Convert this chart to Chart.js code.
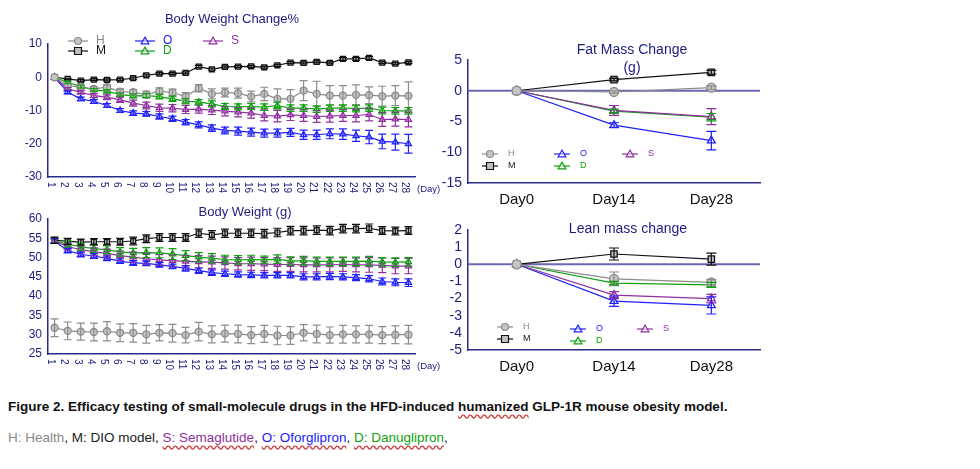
<!DOCTYPE html>
<html>
<head>
<meta charset="utf-8">
<script src="https://cdn.jsdelivr.net/npm/chart.js@4"></script>
<style>
  body { margin: 0; width: 980px; height: 469px; background: #fff; position: relative; font-family: "Liberation Sans", Arial, sans-serif; overflow: hidden; }
  canvas { position: absolute; }
  .cap1 { position: absolute; left: 8px; top: 399px; font-size: 13.5px; font-weight: bold; color: #111; }
  .cap2 { position: absolute; left: 8px; top: 430px; font-size: 13.5px; color: #222; }
  .wavy { text-decoration: underline wavy #d03030; text-underline-offset: 3px; }
</style>
</head>
<body>
<canvas id="c1" style="left:0;top:0"></canvas>
<canvas id="c2" style="left:0;top:200px"></canvas>
<canvas id="c3" style="left:420px;top:30px"></canvas>
<canvas id="c4" style="left:420px;top:215px"></canvas>
<div class="cap1">Figure 2. Efficacy testing of small-molecule drugs in the HFD-induced <span class="wavy">humanized</span> GLP-1R mouse obesity model.</div>
<div class="cap2"><span style="color:#888">H: Health</span>, M: DIO model, <span style="color:#9030a0" class="wavy">S: Semaglutide</span>, <span style="color:#2020ff" class="wavy">O: Oforglipron</span>, <span style="color:#10a010" class="wavy">D: Danuglipron</span>,</div>
<script>
// ---- data ----
const days = Array.from({length: 28}, (_, i) => String(i + 1));
const groups = ['H', 'M', 'O', 'D', 'S'];

const bwcM = [0,-0.5,-1,-0.7,-0.8,-0.7,-0.3,0.6,1.1,1.1,1.3,3.2,2.4,3.1,3.2,3.3,3,3.6,4.4,4.3,4.6,4.3,5.5,5.5,5.8,4.4,4.1,4.5];
const bwcH = [0,-2.5,-3,-3.5,-3,-4.3,-4.5,-5.2,-4.2,-4.6,-5.8,-3.3,-5,-4.6,-4.8,-5.8,-5,-6.5,-6.5,-4,-5,-5.5,-5.5,-5.3,-5.4,-5.7,-5.5,-5.6];
const bwcO = [0,-4.5,-6.5,-7.3,-8.5,-10,-10.8,-11,-11.8,-12.5,-13.5,-14.3,-15.3,-16,-16.2,-16.5,-16.8,-16.8,-16.6,-17.3,-17.3,-17,-17.1,-17.6,-18,-19.3,-19.5,-20];
const bwcD = [0,-1.5,-2.8,-3.8,-4.2,-5.2,-5.6,-5.5,-5.8,-6.5,-7.2,-7.5,-8,-8.8,-8.9,-8.8,-9,-8.5,-9.3,-9.3,-9.6,-9.3,-9.3,-9.4,-9.3,-10,-10.1,-10.1];
const bwcS = [0,-3.5,-4.5,-5.5,-6,-6.8,-7.8,-8.5,-9.2,-9.3,-9.7,-9.6,-9.9,-10.2,-10.5,-10.8,-11.5,-11.7,-11.3,-11.5,-11.8,-11.7,-11.5,-11.5,-11.2,-12.7,-12.6,-12.7];
const bwcErrH = [0,0.5,0.6,0.7,0.7,0.8,0.8,1,1,1,1.2,1.1,1.5,1.3,1.5,1.6,2,3,2.8,3,3.8,3,3,3,2.5,3,3,4.2];
const bwcErrM = [0,0.2,0.3,0.3,0.3,0.3,0.3,0.3,0.3,0.3,0.3,0.4,0.3,0.3,0.3,0.3,0.3,0.3,0.3,0.3,0.3,0.3,0.4,0.4,0.4,0.3,0.3,0.3];
const bwcErrO = [0,0.4,0.5,0.6,0.6,0.6,0.7,0.7,0.8,0.8,0.8,0.9,1,1,1.2,1.2,1.2,1.2,1.2,1.4,1.4,1.5,1.6,1.7,2,2.2,2.4,2.8];
const bwcErrD = [0,0.3,0.4,0.4,0.5,0.5,0.6,0.6,0.7,0.8,0.8,0.8,0.9,0.9,0.9,0.9,1,1,1,1,1,1,1,1,1,1,1,1];
const bwcErrS = [0,0.4,0.5,0.6,0.7,0.8,0.9,1,1.1,1.1,1.2,1.2,1.3,1.4,1.4,1.5,1.6,1.7,1.7,1.8,1.8,1.8,1.8,1.9,1.9,2.1,2.1,2.2];

const bwM = [54.5,54.2,54,54.1,54.1,54.1,54.3,54.9,55.2,55.2,55.2,56.3,55.9,56.3,56.3,56.3,56.2,56.5,57,57,57.1,57,57.5,57.5,57.6,57,56.9,57];
const bwH = [31.8,31,30.8,30.7,30.9,30.5,30.5,30.1,30.5,30.4,29.9,30.8,30.1,30.3,30.2,29.9,30.2,29.8,29.8,30.5,30.2,29.9,30.1,30.1,30.1,29.9,30,30];
const bwO = [54.3,51.8,50.8,50.4,49.8,49.1,48.6,48.5,48.1,47.7,47.2,46.6,46.1,45.8,45.6,45.5,45.4,45.4,45.4,45,45,45.1,45,44.8,44.5,43.8,43.6,43.5];
const bwD = [54.3,53.5,52.8,52.3,52,51.5,51.2,51.3,51.2,50.9,50.5,50.1,49.8,49.5,49.4,49.5,49.4,49.6,49.1,49.2,49,49,49,49,49.1,48.9,48.8,48.9];
const bwS = [54.3,52.8,52.1,51.5,51.1,50.5,50.1,49.7,49.4,49.2,49,48.9,48.8,48.6,48.4,48.4,48.3,48.2,48.2,48.1,48.1,48.1,48.2,48.1,48.1,48,47.8,47.8];
const bwErrH = [2.3,2.3,2.2,2.3,2.5,2.3,2.4,2.3,2.1,2.3,2,2.4,2.2,2.2,2.3,2.2,2.2,2.4,2.3,2.1,2.3,2.1,2.3,2.2,2.3,2.2,2.3,2.4];
const bwErrM = [0.8,0.8,0.8,0.8,0.8,0.9,1,1,1,1,1,1.1,1.1,1.1,1.1,1.1,1.1,1.1,1.1,1.1,1.1,1.1,1.1,1.1,1.1,1,1,1];
const bwErrO = [0.6,0.6,0.6,0.6,0.6,0.6,0.6,0.6,0.6,0.6,0.7,0.7,0.7,0.7,0.7,0.7,0.7,0.7,0.7,0.8,0.8,0.8,0.8,0.8,0.8,0.9,0.9,1];
const bwErrD = [0.6,0.8,0.9,1,1,1.1,1.2,1.3,1.3,1.4,1.3,1.2,1.2,1.1,1.1,1.1,1,1.1,1.1,1.1,1.1,1.1,1.1,1.1,1.2,1.1,1.1,1.1];
const bwErrS = [0.6,0.8,0.9,1,1.1,1.2,1.3,1.4,1.4,1.5,1.5,1.6,1.6,1.6,1.6,1.7,1.7,1.8,1.8,1.8,1.8,1.8,1.8,1.8,1.9,1.9,2,2];

const periods = ['Day0', 'Day14', 'Day28'];
const fatH = [0, -0.2, 0.5], fatM = [0, 1.8, 3], fatO = [0, -5.6, -8.1], fatD = [0, -3.3, -4.3], fatS = [0, -3.2, -4.2];
const fatErrH = [0, 0.2, 0.3], fatErrM = [0, 0.2, 0.3], fatErrO = [0, 0.4, 1.5], fatErrD = [0, 0.3, 0.6], fatErrS = [0, 0.8, 1.3];
const leanH = [0, -0.85, -1.05], leanM = [0, 0.6, 0.3], leanO = [0, -2.15, -2.4], leanD = [0, -1.1, -1.2], leanS = [0, -1.8, -2.0];
const leanErrH = [0, 0.4, 0.15], leanErrM = [0, 0.35, 0.35], leanErrO = [0, 0.3, 0.5], leanErrD = [0, 0.1, 0.15], leanErrS = [0, 0.2, 0.25];

// ---- styles ----
const NAVY = '#1c1c80';
const AXIS = '#2a2a8c';
const style = {
  H: { line: '#8c8c8c', fill: '#c4c4c4', shape: 'circle' },
  M: { line: '#111111', fill: '#c0c0c0', shape: 'rect' },
  O: { line: '#2020ff', fill: 'rgba(255,255,255,0.5)', shape: 'triangle' },
  D: { line: '#10a010', fill: 'rgba(255,255,255,0.5)', shape: 'triangle' },
  S: { line: '#9030a0', fill: 'rgba(255,255,255,0.5)', shape: 'triangle' },
};

function makeSets(vals, errs, r) {
  // draw order: H, S, D, O, M (M on top)
  return ['H', 'S', 'D', 'O', 'M'].map(g => ({
    label: g,
    data: vals[g],
    err: errs[g],
    borderColor: style[g].line,
    backgroundColor: style[g].fill,
    pointBackgroundColor: style[g].fill,
    pointBorderColor: style[g].line,
    pointStyle: style[g].shape,
    pointRadius: r,
    pointBorderWidth: 1.3,
    borderWidth: 1.2,
    tension: 0,
  }));
}

const decor = {
  id: 'decor',
  afterDatasetsDraw(chart, args, opts) {
    const ctx = chart.ctx;
    const xs = chart.scales.x, ys = chart.scales.y;
    ctx.save();
    // error bars
    chart.data.datasets.forEach(ds => {
      if (!ds.err) return;
      ctx.strokeStyle = ds.borderColor;
      ctx.lineWidth = 1.2;
      ds.data.forEach((v, i) => {
        const e = ds.err[i];
        if (!e) return;
        const x = xs.getPixelForValue(i);
        const y1 = ys.getPixelForValue(v + e), y2 = ys.getPixelForValue(v - e);
        const c = opts.cap || 4;
        ctx.beginPath();
        ctx.moveTo(x, y1); ctx.lineTo(x, y2);
        ctx.moveTo(x - c, y1); ctx.lineTo(x + c, y1);
        ctx.moveTo(x - c, y2); ctx.lineTo(x + c, y2);
        ctx.stroke();
      });
    });
    ctx.restore();
  },
  beforeDatasetsDraw(chart, args, opts) {
    if (!opts.zeroLine) return;
    const ctx = chart.ctx, a = chart.chartArea;
    const y = chart.scales.y.getPixelForValue(0);
    ctx.save();
    ctx.strokeStyle = '#6a6ab4';
    ctx.lineWidth = 2;
    ctx.beginPath(); ctx.moveTo(a.left, y); ctx.lineTo(a.right, y); ctx.stroke();
    ctx.restore();
  },
  afterDraw(chart, args, opts) {
    const ctx = chart.ctx, a = chart.chartArea;
    ctx.save();
    // title
    ctx.fillStyle = NAVY;
    ctx.font = opts.titleFont;
    ctx.textAlign = 'center';
    ctx.textBaseline = 'middle';
    opts.title.forEach((t, i) => ctx.fillText(t, opts.titleX, opts.titleY + i * 18));
    // rotated day labels
    if (opts.rotated) {
      const xs = chart.scales.x;
      ctx.font = '10px "Liberation Sans", Arial';
      ctx.textAlign = 'left';
      chart.data.labels.forEach((l, i) => {
        const x = xs.getPixelForValue(i);
        ctx.save();
        ctx.translate(x - 3.5, a.bottom + 5);
        ctx.rotate(Math.PI / 2);
        ctx.fillText(l, 0, 0);
        ctx.restore();
      });
      ctx.font = '9.5px "Liberation Sans", Arial';
      ctx.fillText('(Day)', a.right + 2, a.bottom + 12);
    }
    // legend
    if (opts.legend) {
      const L = opts.legend;
      ctx.font = L.font;
      ctx.textBaseline = 'middle';
      ctx.textAlign = 'left';
      groups.forEach((g, i) => {
        const [lx, ly] = L.pos[i];
        const s = style[g];
        ctx.strokeStyle = s.line;
        ctx.lineWidth = 1.2;
        ctx.beginPath(); ctx.moveTo(lx, ly); ctx.lineTo(lx + L.len, ly); ctx.stroke();
        ctx.fillStyle = s.fill;
        const cx = lx + L.len / 2, r = L.r;
        ctx.beginPath();
        if (s.shape === 'circle') ctx.arc(cx, ly, r, 0, Math.PI * 2);
        else if (s.shape === 'rect') ctx.rect(cx - r, ly - r, 2 * r, 2 * r);
        else { ctx.moveTo(cx, ly - r * 1.1); ctx.lineTo(cx + r * 1.1, ly + r * 0.8); ctx.lineTo(cx - r * 1.1, ly + r * 0.8); ctx.closePath(); }
        ctx.fill(); ctx.stroke();
        ctx.fillStyle = g === 'M' ? '#111' : s.line;
        if (g === 'H') ctx.fillStyle = '#888';
        ctx.fillText(g, lx + L.len + L.gap, ly);
      });
    }
    ctx.restore();
  }
};

function makeChart(id, w, h, labels, sets, cfg) {
  const cv = document.getElementById(id);
  cv.width = w; cv.height = h;
  cv.style.width = w + 'px'; cv.style.height = h + 'px';
  return new Chart(cv, {
    type: 'line',
    data: { labels, datasets: sets },
    plugins: [decor],
    options: {
      responsive: false,
      animation: false,
      devicePixelRatio: 1,
      layout: { padding: { top: cfg.top, right: cfg.right, left: 0, bottom: 0 } },
      plugins: { legend: { display: false }, tooltip: { enabled: false }, decor: cfg.decor },
      scales: {
        x: {
          offset: cfg.offset,
          grid: { display: false, drawTicks: true, tickLength: 4, tickColor: AXIS },
          border: { color: AXIS, width: 1.5 },
          ticks: cfg.xTicks,
          afterFit: s => { s.height = cfg.xh; },
        },
        y: {
          min: cfg.min, max: cfg.max,
          grid: { display: false, drawTicks: true, tickLength: 4, tickColor: AXIS },
          border: { color: AXIS, width: 1.5 },
          ticks: { stepSize: cfg.step, color: NAVY, font: { family: '"Liberation Sans", Arial', size: cfg.yFont }, padding: 2, autoSkip: false },
          afterFit: s => { s.width = cfg.yw; },
        },
      },
    },
  });
}

const hiddenTicks = { display: false };

makeChart('c1', 440, 200, days,
  makeSets({ H: bwcH, M: bwcM, O: bwcO, D: bwcD, S: bwcS }, { H: bwcErrH, M: bwcErrM, O: bwcErrO, D: bwcErrD, S: bwcErrS }, 3.5),
  { top: 44, right: 25, xh: 23, yw: 48, min: -30, max: 10, step: 10, yFont: 12, offset: true, xTicks: hiddenTicks,
    decor: { cap: 4, title: ['Body Weight Change%'], titleX: 232, titleY: 19, titleFont: '13px "Liberation Sans", Arial', rotated: true,
      legend: { font: '12px "Liberation Sans", Arial', len: 20, gap: 8, r: 3.5, pos: [[68, 41], [68, 51], [135, 41], [135, 51], [203, 41]] } } });

makeChart('c2', 440, 175, days,
  makeSets({ H: bwH, M: bwM, O: bwO, D: bwD, S: bwS }, { H: bwErrH, M: bwErrM, O: bwErrO, D: bwErrD, S: bwErrS }, 3.5),
  { top: 19, right: 25, xh: 21, yw: 48, min: 25, max: 60, step: 5, yFont: 12, offset: true, xTicks: hiddenTicks,
    decor: { cap: 4, title: ['Body Weight (g)'], titleX: 245, titleY: 12, titleFont: '13px "Liberation Sans", Arial', rotated: true } });

const dayTicks = { color: '#111', font: { family: '"Liberation Sans", Arial', size: 15 }, padding: 4 };

makeChart('c3', 350, 190, periods,
  makeSets({ H: fatH, M: fatM, O: fatO, D: fatD, S: fatS }, { H: fatErrH, M: fatErrM, O: fatErrO, D: fatErrD, S: fatErrS }, 4.5),
  { top: 30, right: 10, xh: 37, yw: 48, min: -15, max: 5, step: 5, yFont: 14, offset: true, xTicks: dayTicks,
    decor: { cap: 5, zeroLine: true, title: ['Fat Mass Change', '(g)'], titleX: 212, titleY: 20, titleFont: '14px "Liberation Sans", Arial',
      legend: { font: '9px "Liberation Sans", Arial', len: 16, gap: 10, r: 3.5, pos: [[62, 124], [62, 136], [134, 124], [134, 136], [202, 124]] } } });

makeChart('c4', 350, 178, periods,
  makeSets({ H: leanH, M: leanM, O: leanO, D: leanD, S: leanS }, { H: leanErrH, M: leanErrM, O: leanErrO, D: leanErrD, S: leanErrS }, 4.5),
  { top: 15, right: 10, xh: 43, yw: 48, min: -5, max: 2, step: 1, yFont: 14, offset: true, xTicks: dayTicks,
    decor: { cap: 5, zeroLine: true, title: ['Lean mass change'], titleX: 208, titleY: 14, titleFont: '14px "Liberation Sans", Arial',
      legend: { font: '9px "Liberation Sans", Arial', len: 16, gap: 10, r: 3.5, pos: [[77, 112], [77, 124], [150, 114], [150, 126], [217, 114]] } } });
</script>
</body>
</html>
